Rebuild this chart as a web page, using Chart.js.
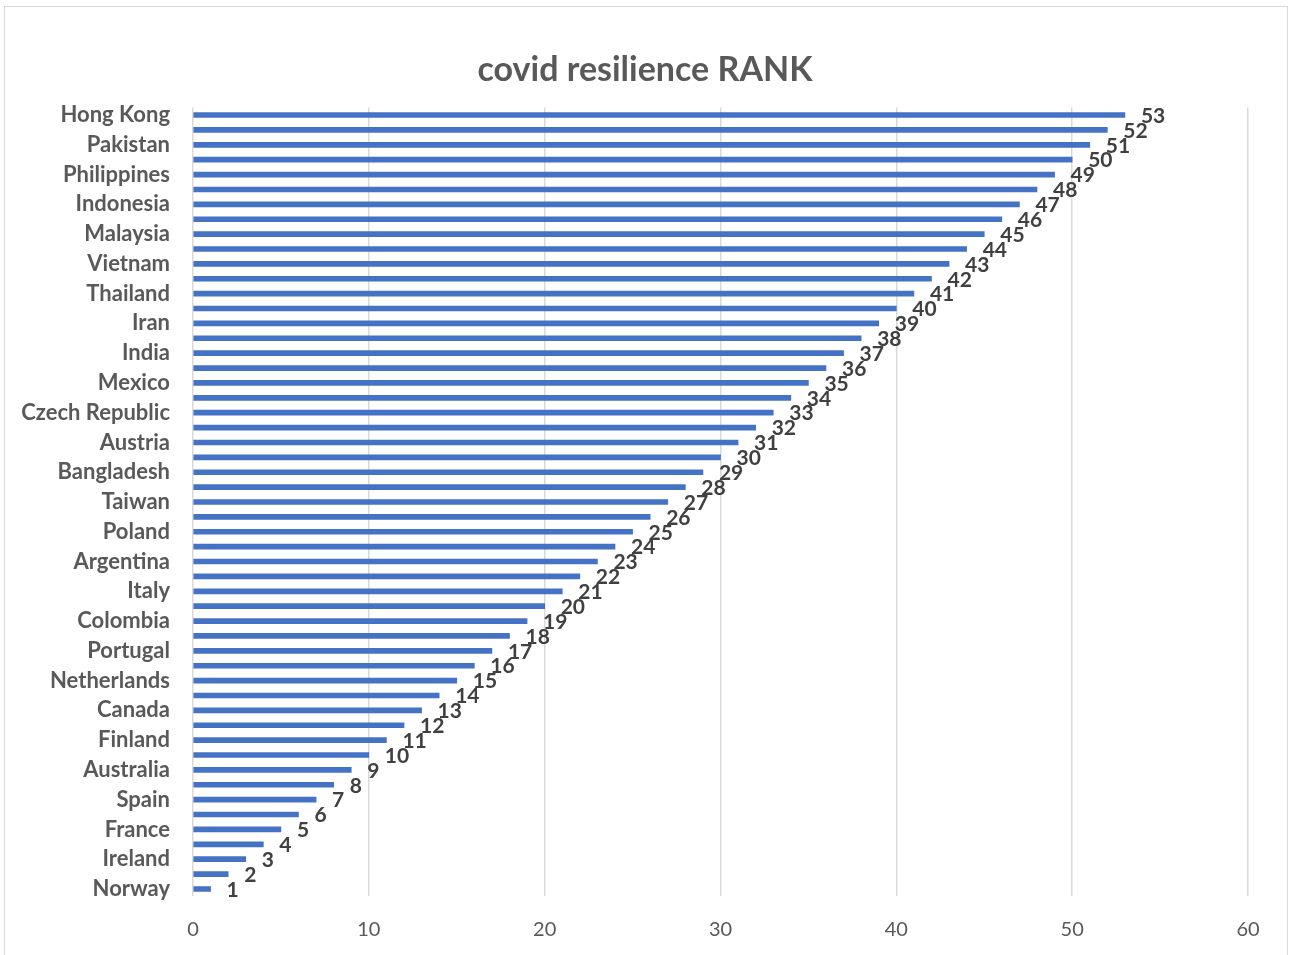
<!DOCTYPE html>
<html>
<head>
<meta charset="utf-8">
<script src="https://cdn.jsdelivr.net/npm/chart.js@4"></script>
<style>
  html, body { margin: 0; padding: 0; background: #fff; }
  #wrap { width: 1290px; height: 955px; position: relative; }
</style>
</head>
<body>
<div id="wrap"><canvas id="rankChart"></canvas></div>
<script>
// countries from top (rank 53) to bottom (rank 1); only every other name is shown on the axis
const countries = [
  'Hong Kong', 'Argentina ', 'Pakistan', 'Brazil', 'Philippines', 'Peru', 'Indonesia', 'South Africa',
  'Malaysia', 'Russia', 'Vietnam', 'Egypt', 'Thailand', 'Nigeria', 'Iran', 'Turkey',
  'India', 'Saudi Arabia', 'Mexico', 'Chile', 'Czech Republic', 'Romania', 'Austria', 'Greece',
  'Bangladesh', 'UAE', 'Taiwan', 'Israel', 'Poland', 'United States', 'Argentina', 'United Kingdom',
  'Italy', 'Belgium', 'Colombia', 'Germany', 'Portugal', 'Switzerland', 'Netherlands', 'Singapore',
  'Canada', 'South Korea', 'Finland', 'New Zealand', 'Australia', 'Japan', 'Spain', 'Denmark',
  'France', 'Sweden', 'Ireland', 'China', 'Norway'
];
const ranks = [
  53, 52, 51, 50, 49, 48, 47, 46, 45, 44, 43, 42, 41, 40, 39, 38, 37, 36, 35, 34,
  33, 32, 31, 30, 29, 28, 27, 26, 25, 24, 23, 22, 21, 20, 19, 18, 17, 16, 15, 14,
  13, 12, 11, 10, 9, 8, 7, 6, 5, 4, 3, 2, 1
];
const xTicks = [0, 10, 20, 30, 40, 50, 60];
const titleText = 'covid resilience RANK';

const FONT = 'Lato, "Open Sans", sans-serif';

// chart border and title, drawn centred on the whole canvas
const frame = {
  id: 'frame',
  beforeDraw(chart) {
    const c = chart.ctx;
    c.save();
    c.strokeStyle = '#d9d9d9';
    c.lineWidth = 1;
    c.strokeRect(4.5, 6.5, 1283, 950);
    c.font = 'bold 34px ' + FONT;
    c.fillStyle = '#595959';
    c.textAlign = 'center';
    c.textBaseline = 'middle';
    c.fillText(titleText, chart.width / 2, 70);
    c.restore();
  }
};

const valueLabels = {
  id: 'valueLabels',
  afterDatasetsDraw(chart) {
    const c = chart.ctx;
    const meta = chart.getDatasetMeta(0);
    c.save();
    c.font = 'bold 21px ' + FONT;
    c.fillStyle = '#404040';
    c.textAlign = 'left';
    c.textBaseline = 'middle';
    meta.data.forEach((bar, i) => {
      c.fillText(String(ranks[i]), bar.x + 16, bar.y + 1);
    });
    c.restore();
  }
};

new Chart(document.getElementById('rankChart'), {
  type: 'bar',
  data: {
    labels: countries,
    datasets: [{
      data: ranks,
      backgroundColor: '#4472C4',
      barThickness: 5
    }]
  },
  options: {
    indexAxis: 'y',
    responsive: true,
    maintainAspectRatio: false,
    animation: false,
    layout: { padding: { left: 0, right: 42, top: 107.6, bottom: 0 } },
    plugins: {
      legend: { display: false },
      tooltip: { enabled: false },
      title: { display: false }
    },
    scales: {
      x: {
        min: 0,
        max: 60,
        afterBuildTicks: axis => { axis.ticks = xTicks.map(v => ({ value: v })); },
        afterFit: axis => { axis.height = 955 - 896.4; },
        grid: { color: '#d9d9d9', lineWidth: 1.5, drawTicks: false },
        border: { display: false },
        ticks: {
          color: '#595959',
          padding: 21,
          font: { family: FONT, size: 20 }
        }
      },
      y: {
        afterFit: axis => { axis.width = 193; },
        grid: { display: false },
        border: { display: false },
        ticks: {
          autoSkip: false,
          color: '#595959',
          padding: 15,
          font: { family: FONT, size: 22, weight: 'bold' },
          callback: function (value, index) {
            return index % 2 === 0 ? this.getLabelForValue(value) : '';
          }
        }
      }
    }
  },
  plugins: [frame, valueLabels]
});
</script>
</body>
</html>
